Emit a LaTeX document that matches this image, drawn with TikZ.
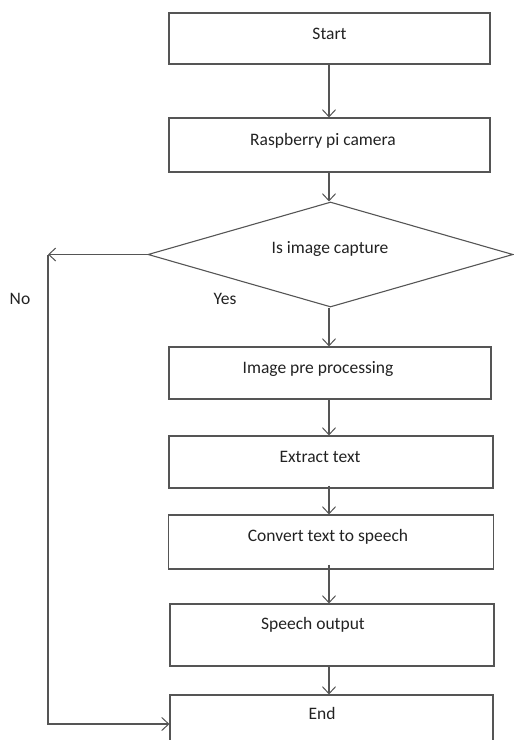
\documentclass[tikz,border=0pt]{standalone}
\usepackage{fontspec}
\setmainfont{Carlito}
\usetikzlibrary{arrows.meta,shapes.geometric}
\definecolor{linec}{HTML}{555555}
\definecolor{textc}{HTML}{222222}
\begin{document}
\begin{tikzpicture}[x=1pt,y=-1pt,
  box/.style={draw=linec, line width=1.1pt, rectangle, inner sep=0pt},
  lbl/.style={text=textc, font=\fontsize{17.5}{20}\selectfont, inner sep=0pt, anchor=base},
  arr/.style={draw=linec, line width=1.1pt, -{Straight Barb[length=7pt,width=13pt,line width=1pt]}}
]
\useasboundingbox (0,0) rectangle (514,740);
% boxes
\node[box, minimum width=321pt, minimum height=51pt] (start) at (329.5,38.5) {};
\node[box, minimum width=321pt, minimum height=54pt] (cam) at (329.5,145) {};
\node[draw=linec, line width=1.1pt, diamond, aspect=3.48, minimum width=365pt, minimum height=105pt, inner sep=0pt] (dec) at (330.5,254.5) {};
\node[box, minimum width=322pt, minimum height=52pt] (pre) at (330,373) {};
\node[box, minimum width=324pt, minimum height=52pt] (ext) at (331,462) {};
\node[box, minimum width=325pt, minimum height=54pt] (conv) at (331,542) {};
\node[box, minimum width=324pt, minimum height=62pt] (sp) at (332,635) {};
\node[box, minimum width=323pt, minimum height=70pt] (fin) at (331.5,730) {};
% labels
\node[lbl] (tstart) at (329.5,39) {Start};
\node[lbl] (tcam) at (323,145) {Raspberry pi camera};
\node[lbl] (tdec) at (330,253) {Is image capture};
\node[lbl] (tpre) at (318,373) {Image pre processing};
\node[lbl] (text) at (320,462) {Extract text};
\node[lbl] (tconv) at (328,541) {Convert text to speech};
\node[lbl] (tsp) at (313,629) {Speech output};
\node[lbl] (tfin) at (322,719) {End};
\node[lbl] (tno) at (20,304) {No};
\node[lbl] (tyes) at (225,304) {Yes};
% connectors
\draw[arr] (start.south -| 329,0) -- (cam.north -| 329,0);
\draw[arr] (cam.south -| 329,0) -- (dec.north -| 329,0);
\draw[arr] (dec.south -| 329,0) -- (pre.north -| 329,0);
\draw[arr] (pre.south -| 329,0) -- (ext.north -| 329,0);
\draw[arr] ([yshift=3pt]ext.south -| 329,0) -- (conv.north -| 329,0);
\draw[arr] ([yshift=5pt]conv.south -| 329,0) -- (sp.north -| 329,0);
\draw[arr] (sp.south -| 329,0) -- (fin.north -| 329,0);
\coordinate (ctop) at (48,254.5);
\coordinate (cbot) at (48,724);
\draw[arr] (dec.west) -- (ctop);
\draw[arr] (ctop) -- (cbot) -- (cbot -| fin.west);
\end{tikzpicture}
\end{document}
